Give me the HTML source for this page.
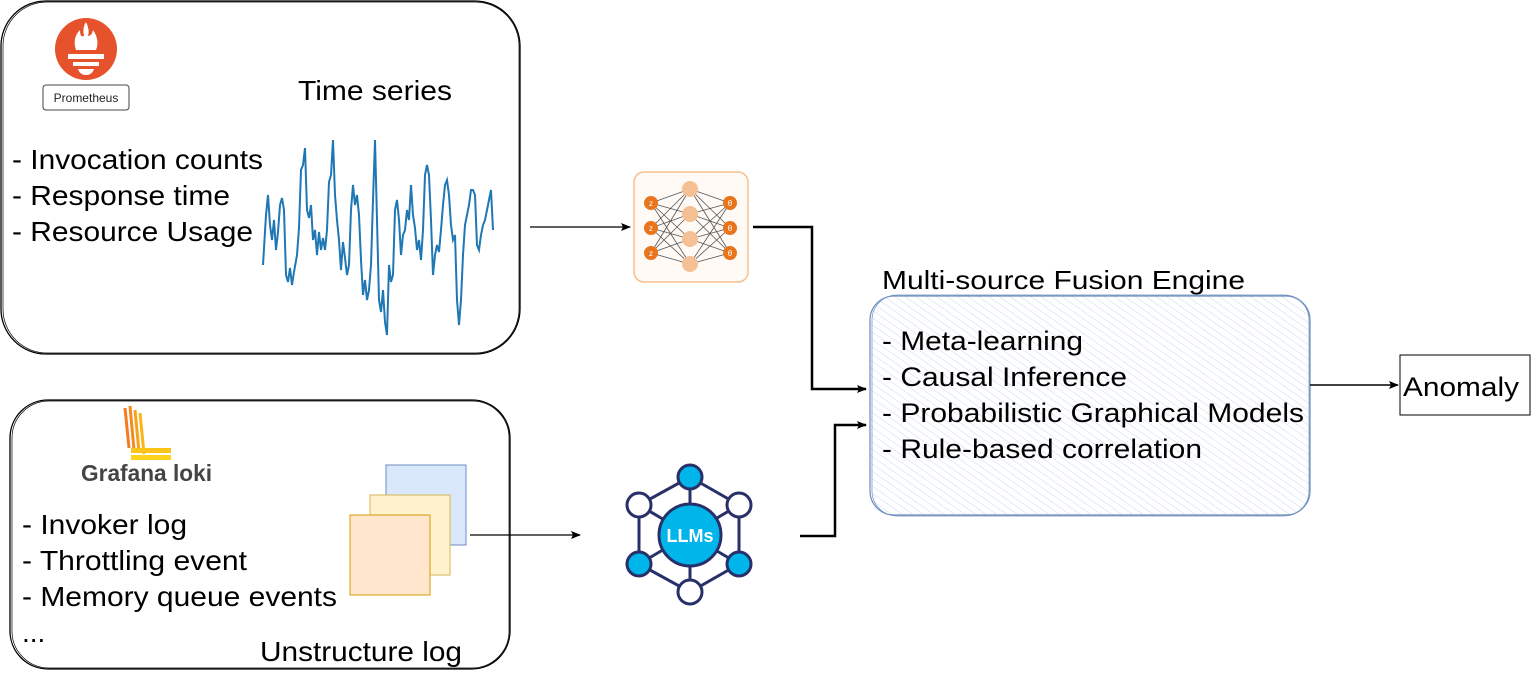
<!DOCTYPE html>
<html><head><meta charset="utf-8"><style>
html,body{margin:0;padding:0;background:#fff;}
svg{display:block;font-family:"Liberation Sans",sans-serif;}
</style></head><body>
<svg width="1531" height="676" viewBox="0 0 1531 676" xmlns="http://www.w3.org/2000/svg">
<defs>
<pattern id="hatch" width="6" height="6" patternUnits="userSpaceOnUse" patternTransform="rotate(-55)">
<line x1="0" y1="0" x2="0" y2="6" stroke="#c9d8ee" stroke-width="1"/>
</pattern>
<marker id="ah" markerWidth="10" markerHeight="8" refX="9" refY="4" orient="auto" markerUnits="userSpaceOnUse">
<path d="M0,0 L10,4 L0,8 L2,4 Z" fill="#000"/>
</marker>
</defs>

<rect x="1" y="1" width="519" height="353" rx="45" fill="#fff" stroke="#000" stroke-width="1.3"/>
<rect x="3" y="2" width="516" height="351" rx="44" fill="none" stroke="#000" stroke-width="0.7"/>
<circle cx="86" cy="49" r="31" fill="#e6522c"/>
<path d="M76,50 Q72,38 80,30 Q80,38 84,36 Q82,28 86,22 Q90,30 88,36 Q92,36 93,30 Q100,40 96,50 Z" fill="#fff"/>
<rect x="68" y="54" width="36" height="5" fill="#fff"/>
<rect x="73" y="62" width="26" height="4" fill="#fff"/>
<path d="M78,69 h16 q-2,6 -8,6 q-6,0 -8,-6z" fill="#fff"/>
<rect x="43" y="85" width="86" height="25" rx="3" fill="#fff" stroke="#444" stroke-width="1"/>
<text x="86" y="102" font-size="12" text-anchor="middle" fill="#222">Prometheus</text>
<text x="298" y="100" font-size="28" textLength="154" lengthAdjust="spacingAndGlyphs">Time series</text>
<text x="12" y="169" font-size="28" textLength="251" lengthAdjust="spacingAndGlyphs">- Invocation counts</text>
<text x="12" y="205" font-size="28" textLength="218" lengthAdjust="spacingAndGlyphs">- Response time</text>
<text x="12" y="241" font-size="28" textLength="241" lengthAdjust="spacingAndGlyphs">- Resource Usage</text>
<polyline fill="none" stroke="#1f77b4" stroke-width="2" points="263,265 266,215 268,195 270,225 272,240 274,220 276,250 278,232 280,205 282,198 284,210 286,275 288,282 290,268 292,285 294,272 297,255 299,228 301,170 303,165 305,148 307,210 309,218 311,205 313,240 315,230 317,255 319,232 321,250 323,238 325,250 327,230 329,182 331,175 333,140 335,195 337,220 339,240 341,270 343,242 345,258 347,275 349,265 351,210 353,185 355,205 357,195 359,215 361,260 363,295 365,280 367,300 369,290 371,265 373,200 375,140 377,220 379,300 381,312 383,290 385,322 387,335 389,265 391,282 393,275 395,210 397,200 399,220 401,255 403,235 405,230 407,210 409,220 411,185 413,215 415,228 417,250 419,240 421,260 423,230 425,175 427,165 429,175 431,220 433,275 435,255 437,245 439,252 441,230 443,205 445,185 447,180 449,195 451,225 453,240 455,235 457,300 459,325 461,300 463,255 465,225 467,215 469,205 471,190 473,190 475,195 477,245 479,250 481,235 483,225 485,220 487,210 489,200 491,190 493,230"/>

<rect x="10" y="400" width="500" height="269" rx="38" fill="#fff" stroke="#000" stroke-width="1.3"/>
<rect x="12" y="401" width="497" height="267" rx="37" fill="none" stroke="#000" stroke-width="0.7"/>
<g stroke-width="3">
<line x1="125" y1="408" x2="129" y2="448" stroke="#f47c20"/>
<line x1="130" y1="406" x2="134" y2="450" stroke="#f68a1f"/>
<line x1="135" y1="410" x2="139" y2="452" stroke="#f8a21b"/>
<line x1="140" y1="413" x2="144" y2="454" stroke="#fbb516"/>
</g>
<rect x="131" y="448" width="40" height="5" fill="#fcc419"/>
<rect x="131" y="455" width="40" height="5" fill="#fcd21d"/>
<text x="81" y="481" font-size="23" fill="#444" font-weight="bold" textLength="131" lengthAdjust="spacingAndGlyphs">Grafana loki</text>
<text x="22" y="534" font-size="28" textLength="165" lengthAdjust="spacingAndGlyphs">- Invoker log</text>
<text x="22" y="570" font-size="28" textLength="225" lengthAdjust="spacingAndGlyphs">- Throttling event</text>
<text x="22" y="606" font-size="28" textLength="315" lengthAdjust="spacingAndGlyphs">- Memory queue events</text>
<text x="22" y="642" font-size="28">...</text>
<text x="260" y="661" font-size="28" textLength="202" lengthAdjust="spacingAndGlyphs">Unstructure log</text>
<rect x="386" y="465" width="80" height="80" fill="#dae8fc" stroke="#6c8ebf"/>
<rect x="370" y="495" width="80" height="80" fill="#fff2cc" stroke="#d6b656"/>
<rect x="350" y="515" width="80" height="80" fill="#ffe6cc" stroke="#d79b00"/>

<line x1="530" y1="227" x2="630" y2="227" stroke="#000" stroke-width="1.3" marker-end="url(#ah)"/>
<line x1="470" y1="535" x2="580" y2="535" stroke="#000" stroke-width="1.3" marker-end="url(#ah)"/>

<rect x="634" y="172" width="114" height="110" rx="10" fill="#fffaf5" stroke="#f5c08e" stroke-width="1.5"/>
<g stroke="#555" stroke-width="0.8">
<path d="M651,203 L690,189 M651,203 L690,214 M651,203 L690,239 M651,203 L690,264 M651,228 L690,189 M651,228 L690,214 M651,228 L690,239 M651,228 L690,264 M651,253 L690,189 M651,253 L690,214 M651,253 L690,239 M651,253 L690,264"/>
<path d="M730,203 L690,189 M730,203 L690,214 M730,203 L690,239 M730,203 L690,264 M730,228 L690,189 M730,228 L690,214 M730,228 L690,239 M730,228 L690,264 M730,253 L690,189 M730,253 L690,214 M730,253 L690,239 M730,253 L690,264"/>
</g>
<g fill="#f5c093"><circle cx="690" cy="189" r="8"/><circle cx="690" cy="214" r="8"/><circle cx="690" cy="239" r="8"/><circle cx="690" cy="264" r="8"/></g>
<g fill="#e8741c"><circle cx="651" cy="203" r="7"/><circle cx="651" cy="228" r="7"/><circle cx="651" cy="253" r="7"/><circle cx="730" cy="203" r="7"/><circle cx="730" cy="228" r="7"/><circle cx="730" cy="253" r="7"/></g>
<g fill="#fff" font-size="8" text-anchor="middle"><text x="651" y="206">z</text><text x="651" y="231">z</text><text x="651" y="256">z</text><text x="730" y="206">θ</text><text x="730" y="231">θ</text><text x="730" y="256">θ</text></g>

<g stroke="#283069" stroke-width="3" fill="none">
<path d="M690,477 L739,505 L739,564 L690,592 L639,564 L639,505 Z"/>
<line x1="690" y1="477" x2="690" y2="592"/>
<line x1="639" y1="505" x2="739" y2="564"/>
<line x1="739" y1="505" x2="639" y2="564"/>
</g>
<g stroke="#283069" stroke-width="3">
<circle cx="690" cy="535" r="31" fill="#00b5ea"/>
<circle cx="690" cy="477" r="12" fill="#00b5ea"/>
<circle cx="739" cy="505" r="12" fill="#fff"/>
<circle cx="739" cy="564" r="12" fill="#00b5ea"/>
<circle cx="690" cy="592" r="12" fill="#fff"/>
<circle cx="639" cy="564" r="12" fill="#00b5ea"/>
<circle cx="639" cy="505" r="12" fill="#fff"/>
</g>
<text x="690" y="542" font-size="18" font-weight="bold" fill="#fff" text-anchor="middle">LLMs</text>

<polyline points="753,227 812,227 812,389 866,389" fill="none" stroke="#000" stroke-width="2.5" marker-end="url(#ah)"/>
<polyline points="800,536 835,536 835,425 866,425" fill="none" stroke="#000" stroke-width="2.5" marker-end="url(#ah)"/>

<text x="882" y="289" font-size="26" textLength="363" lengthAdjust="spacingAndGlyphs">Multi-source Fusion Engine</text>
<rect x="870" y="296" width="440" height="219" rx="24" fill="url(#hatch)" stroke="#6c8ebf" stroke-width="1.2"/>
<rect x="872" y="295" width="437" height="221" rx="25" fill="none" stroke="#6c8ebf" stroke-width="0.7"/>
<g font-size="27">
<text x="882" y="350" textLength="201" lengthAdjust="spacingAndGlyphs">- Meta-learning</text>
<text x="882" y="386" textLength="245" lengthAdjust="spacingAndGlyphs">- Causal Inference</text>
<text x="882" y="422" textLength="422" lengthAdjust="spacingAndGlyphs">- Probabilistic Graphical Models</text>
<text x="882" y="458" textLength="320" lengthAdjust="spacingAndGlyphs">- Rule-based correlation</text>
</g>
<line x1="1310" y1="385" x2="1398" y2="385" stroke="#000" stroke-width="1.5" marker-end="url(#ah)"/>
<rect x="1400" y="355" width="130" height="60" fill="#fff" stroke="#000" stroke-width="1"/>
<text x="1403" y="396" font-size="27" textLength="116" lengthAdjust="spacingAndGlyphs">Anomaly</text>
</svg>
</body></html>
